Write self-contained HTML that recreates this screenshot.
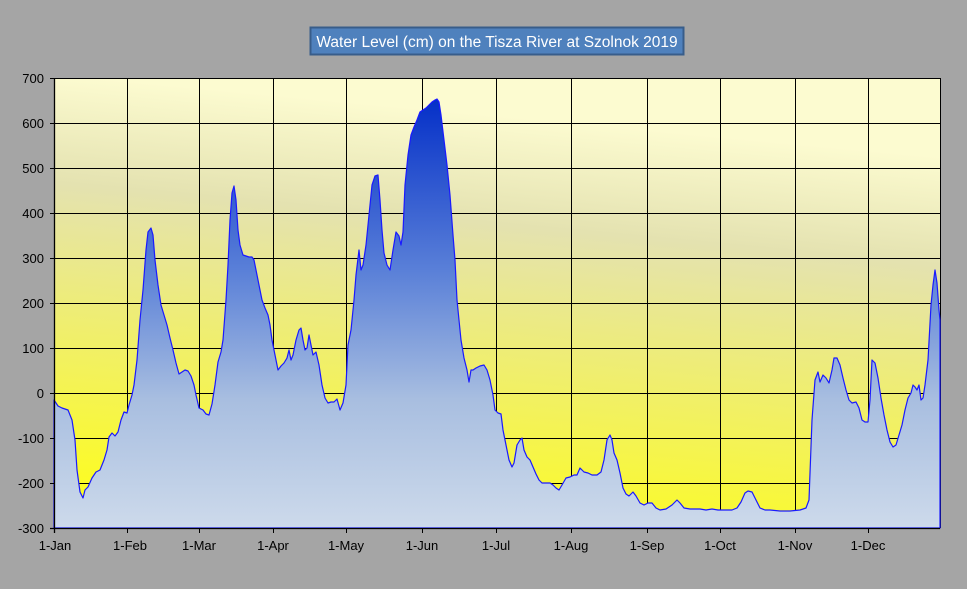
<!DOCTYPE html>
<html><head><meta charset="utf-8"><style>
body{margin:0;background:#a5a5a5;width:967px;height:589px;overflow:hidden;font-family:"Liberation Sans",sans-serif}
</style></head><body>
<svg width="967" height="589" xmlns="http://www.w3.org/2000/svg" style="position:absolute;left:0;top:0">
<defs>
<linearGradient id="bg" x1="54" y1="528" x2="96" y2="78" gradientUnits="userSpaceOnUse">
<stop offset="0" stop-color="#ffff10"/><stop offset="0.35" stop-color="#f3f25a"/><stop offset="0.76" stop-color="#e4e2b0"/><stop offset="1" stop-color="#fcfbd0"/></linearGradient>
<linearGradient id="ar" x1="0" y1="100" x2="0" y2="528" gradientUnits="userSpaceOnUse">
<stop offset="0" stop-color="#0530c8"/><stop offset="0.4" stop-color="#5a80d8"/><stop offset="0.7" stop-color="#a8bee0"/><stop offset="1" stop-color="#cddaeb"/></linearGradient>
</defs>
<rect x="54" y="78" width="886" height="450" fill="url(#bg)"/>
<g stroke="#000" stroke-width="1">
<line x1="54" x2="940" y1="78.5" y2="78.5"/><line x1="54" x2="940" y1="123.5" y2="123.5"/><line x1="54" x2="940" y1="168.5" y2="168.5"/><line x1="54" x2="940" y1="213.5" y2="213.5"/><line x1="54" x2="940" y1="258.5" y2="258.5"/><line x1="54" x2="940" y1="303.5" y2="303.5"/><line x1="54" x2="940" y1="348.5" y2="348.5"/><line x1="54" x2="940" y1="393.5" y2="393.5"/><line x1="54" x2="940" y1="438.5" y2="438.5"/><line x1="54" x2="940" y1="483.5" y2="483.5"/>
<line y1="78" y2="528" x1="127.5" x2="127.5"/><line y1="78" y2="528" x1="199.5" x2="199.5"/><line y1="78" y2="528" x1="273.5" x2="273.5"/><line y1="78" y2="528" x1="346.5" x2="346.5"/><line y1="78" y2="528" x1="422.5" x2="422.5"/><line y1="78" y2="528" x1="496.5" x2="496.5"/><line y1="78" y2="528" x1="571.5" x2="571.5"/><line y1="78" y2="528" x1="647.5" x2="647.5"/><line y1="78" y2="528" x1="720.5" x2="720.5"/><line y1="78" y2="528" x1="795.5" x2="795.5"/><line y1="78" y2="528" x1="868.5" x2="868.5"/><line y1="78" y2="528" x1="940.5" x2="940.5"/>
</g>
<polygon fill="url(#ar)" stroke="#1a1aff" stroke-width="1.2" stroke-linejoin="round" points="54,528 54,400 58,406 62,408 68,410 72,420 75,440 77,470 80,492 83,498 85,490 88,487 92,478 96,472 100,470 104,460 107,450 109,437 112,433 115,436 118,432 121,420 124,412 127,413 129,405 132,395 134,385 137,360 140,320 143,290 146,250 148,232 151,228 153,235 155,260 158,285 161,305 164,315 167,325 170,338 173,350 176,363 179,374 182,372 185,370 188,371 191,376 194,385 196,395 199,408 203,410 206,414 209,415 212,404 215,385 218,362 221,352 223,340 226,300 228,265 230,220 232,193 234,186 236,200 238,230 240,245 243,255 246,256 249,257 252,257 254,260 256,270 259,285 262,300 265,308 268,315 270,325 272,340 275,355 278,370 281,366 284,363 287,358 289,350 291,360 293,355 296,340 299,330 301,328 303,340 305,350 307,348 309,335 311,345 313,355 316,352 319,365 322,385 325,398 328,403 331,402 334,402 337,399 340,410 343,403 346,385 348,345 351,330 354,300 356,275 359,250 361,270 363,265 366,245 369,215 372,185 375,176 378,175 380,200 382,230 384,253 387,265 390,270 393,250 396,232 399,236 401,245 403,232 405,185 408,155 411,135 414,127 417,120 420,112 423,110 426,108 429,105 432,102 435,100 437,99 439,102 441,115 444,140 447,165 450,195 453,235 455,260 457,300 459,320 461,340 464,358 467,370 469,382 471,370 473,370 476,368 480,366 484,365 487,370 490,380 493,395 495,410 498,413 501,414 503,430 506,445 509,460 512,467 514,463 517,445 520,440 522,438 524,450 527,457 530,460 533,467 536,474 539,480 542,483 546,483 550,483 553,485 556,488 559,490 562,485 566,478 570,477 574,475 577,475 580,468 584,472 588,473 592,475 597,475 601,472 604,460 607,440 610,435 612,440 614,453 617,460 620,473 623,488 626,494 629,496 633,492 636,496 640,503 644,505 648,503 652,503 656,508 660,510 666,509 672,505 677,500 680,503 684,508 690,509 700,509 706,510 712,509 718,510 725,510 732,510 737,508 741,502 745,493 748,491 752,492 756,500 760,508 765,510 770,510 780,511 790,511 800,510 806,508 809,500 812,420 815,380 818,372 820,382 823,375 826,378 829,383 832,370 834,358 837,358 840,365 843,378 846,390 849,400 852,403 856,402 859,408 862,420 865,422 868,422 870,400 872,360 875,363 878,378 881,398 884,415 887,430 890,442 893,447 896,445 899,435 902,425 905,410 908,398 911,393 913,385 915,387 917,390 919,385 921,400 923,398 925,385 928,360 931,305 933,285 935,270 937,283 939,310 940,320 940,528"/>
<g stroke="#000" stroke-width="1.3">
<line x1="54.5" y1="78" x2="54.5" y2="533"/><line x1="50" y1="528.5" x2="940" y2="528.5"/>
</g>
<g stroke="#000" stroke-width="1">
<line x1="50" x2="54" y1="78.5" y2="78.5"/><line x1="50" x2="54" y1="123.5" y2="123.5"/><line x1="50" x2="54" y1="168.5" y2="168.5"/><line x1="50" x2="54" y1="213.5" y2="213.5"/><line x1="50" x2="54" y1="258.5" y2="258.5"/><line x1="50" x2="54" y1="303.5" y2="303.5"/><line x1="50" x2="54" y1="348.5" y2="348.5"/><line x1="50" x2="54" y1="393.5" y2="393.5"/><line x1="50" x2="54" y1="438.5" y2="438.5"/><line x1="50" x2="54" y1="483.5" y2="483.5"/>
<line y1="528" y2="533" x1="127.5" x2="127.5"/><line y1="528" y2="533" x1="199.5" x2="199.5"/><line y1="528" y2="533" x1="273.5" x2="273.5"/><line y1="528" y2="533" x1="346.5" x2="346.5"/><line y1="528" y2="533" x1="422.5" x2="422.5"/><line y1="528" y2="533" x1="496.5" x2="496.5"/><line y1="528" y2="533" x1="571.5" x2="571.5"/><line y1="528" y2="533" x1="647.5" x2="647.5"/><line y1="528" y2="533" x1="720.5" x2="720.5"/><line y1="528" y2="533" x1="795.5" x2="795.5"/><line y1="528" y2="533" x1="868.5" x2="868.5"/>
</g>
<g font-size="13" fill="#000" text-anchor="end" font-family="Liberation Sans, sans-serif">
<text x="44" y="83">700</text><text x="44" y="128">600</text><text x="44" y="173">500</text><text x="44" y="218">400</text><text x="44" y="263">300</text><text x="44" y="308">200</text><text x="44" y="353">100</text><text x="44" y="398">0</text><text x="44" y="443">-100</text><text x="44" y="488">-200</text><text x="44" y="533">-300</text>
</g>
<g font-size="13" fill="#000" text-anchor="middle" font-family="Liberation Sans, sans-serif">
<text x="55" y="550">1-Jan</text><text x="130" y="550">1-Feb</text><text x="199" y="550">1-Mar</text><text x="273" y="550">1-Apr</text><text x="346" y="550">1-May</text><text x="422" y="550">1-Jun</text><text x="496" y="550">1-Jul</text><text x="571" y="550">1-Aug</text><text x="647" y="550">1-Sep</text><text x="720" y="550">1-Oct</text><text x="795" y="550">1-Nov</text><text x="868" y="550">1-Dec</text>
</g>
<rect x="310.5" y="27.5" width="373" height="27" fill="#4f81bd" stroke="#385d8a" stroke-width="2"/>
<text x="497" y="47" font-size="15.5" fill="#fff" text-anchor="middle" font-family="Liberation Sans, sans-serif">Water Level (cm) on the Tisza River at Szolnok 2019</text>
</svg>
</body></html>
